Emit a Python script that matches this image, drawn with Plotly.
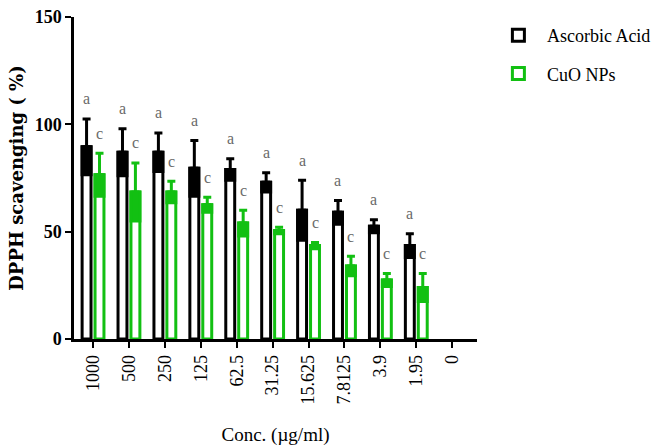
import plotly.graph_objects as go

# Concentrations (µg/ml) on the x axis
concentrations = ["1000", "500", "250", "125", "62.5", "31.25", "15.625",
                  "7.8125", "3.9", "1.95", "0"]

# DPPH scavenging (%) mean and SD for each sample
ascorbic_mean = [89.5, 87, 87, 79.5, 79, 73, 60, 59, 52.5, 43.5, None]
ascorbic_sd = [13, 11, 9, 13, 5, 4.5, 14, 5.5, 3, 5.5, None]
cuo_mean = [76.5, 68.5, 68.5, 62.5, 54, 50.5, 43.5, 34, 27.5, 24, None]
cuo_sd = [10, 13.5, 5, 3.5, 6, 1.5, 1.5, 4.5, 3, 6.5, None]

# Significance letters above each bar
ascorbic_letters = ["a"] * 10 + [""]
cuo_letters = ["c"] * 10 + [""]

BLACK = "#000000"
GREEN = "#12c012"
SERIF = "Liberation Serif, Times New Roman, serif"
SERIF_WIDE = "DejaVu Serif, Liberation Serif, serif"

fig = go.Figure()


def add_series(name, means, sds, color, group):
    n = len(means)
    # hollow bar with an upward SD whisker
    fig.add_trace(go.Bar(
        x=concentrations, y=means, name=name, offsetgroup=group,
        legendgroup=group,
        marker=dict(color="white", line=dict(color=color, width=3)),
        error_y=dict(type="data", symmetric=False, array=sds,
                     arrayminus=[0] * n, color=color, thickness=3, width=4),
    ))
    # lower SD band drawn solid inside the bar
    base = [None if m is None else m - s for m, s in zip(means, sds)]
    fig.add_trace(go.Bar(
        x=concentrations, y=sds, base=base, offsetgroup=group,
        legendgroup=group, showlegend=False, hoverinfo="skip",
        marker=dict(color=color, line=dict(color=color, width=3)),
    ))


add_series("Ascorbic Acid", ascorbic_mean, ascorbic_sd, BLACK, "aa")
add_series("CuO NPs", cuo_mean, cuo_sd, GREEN, "cuo")

# letters placed above the top of each whisker (x given as category index)
for letters, means, sds, dx in ((ascorbic_letters, ascorbic_mean, ascorbic_sd, -6.5),
                                (cuo_letters, cuo_mean, cuo_sd, 6.5)):
    for i, (lab, m, s) in enumerate(zip(letters, means, sds)):
        if m is None:
            continue
        fig.add_annotation(x=i, y=m + s, xref="x", yref="y", text=lab,
                           showarrow=False, xshift=dx, yshift=20,
                           yanchor="middle",
                           font=dict(family=SERIF, size=16, color="#6a6a6a"))

fig.update_layout(
    width=658, height=446,
    margin=dict(l=74, r=181, t=17, b=107, autoexpand=False),
    paper_bgcolor="white", plot_bgcolor="white",
    barmode="group", bargap=0.28, bargroupgap=0.31,
    font=dict(family=SERIF, color="black"),
    legend=dict(x=1.032, xanchor="left", y=1.0, yanchor="top",
                font=dict(family=SERIF, size=18, color="black"),
                traceorder="grouped", tracegroupgap=12,
                itemwidth=47, bgcolor="rgba(0,0,0,0)"),
    xaxis=dict(
        type="category", range=[-0.53, 10.69], automargin=False,
        showline=True, linecolor="black", linewidth=2.5,
        ticks="outside", ticklen=6, tickwidth=2, tickcolor="black",
        tickangle=-90, showgrid=False, zeroline=False,
        tickfont=dict(family=SERIF, size=18, color="black"),
        title=dict(text="Conc. (µg/ml)", standoff=26,
                   font=dict(family=SERIF, size=19, color="black")),
    ),
    yaxis=dict(
        range=[0, 150], tickvals=[0, 50, 100, 150], automargin=False,
        showline=True, linecolor="black", linewidth=2.5,
        ticks="outside", ticklen=6, tickwidth=2, tickcolor="black",
        showgrid=False, zeroline=False,
        tickfont=dict(family=SERIF, size=18, color="black", weight="bold"),
        title=dict(text="DPPH scavenging ( %)", standoff=7,
                   font=dict(family=SERIF_WIDE, size=18, color="black",
                             weight="bold")),
    ),
)

fig.write_html("out.html")
